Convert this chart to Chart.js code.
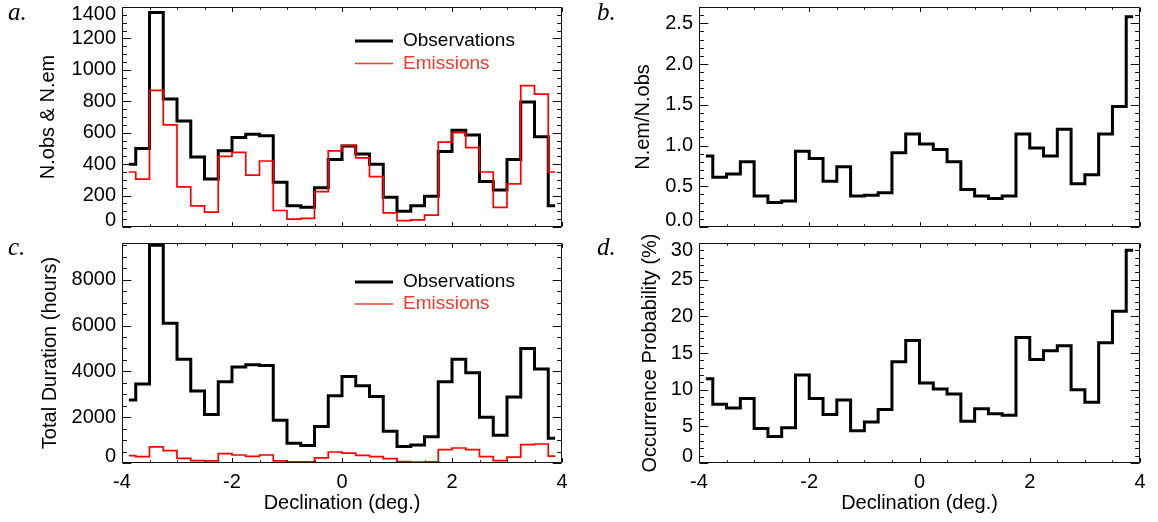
<!DOCTYPE html>
<html>
<head>
<meta charset="utf-8">
<script src="https://cdn.jsdelivr.net/npm/chart.js@4.4.0/dist/chart.umd.min.js"></script>
<style>
  html, body { margin: 0; padding: 0; background: #fff; }
  body { width: 1158px; height: 522px; position: relative; overflow: hidden; }
  canvas { position: absolute; }
</style>
</head>
<body>
<canvas id="panelA" width="580" height="235" style="left:0;top:0"></canvas>
<canvas id="panelB" width="578" height="235" style="left:580px;top:0"></canvas>
<canvas id="panelC" width="580" height="287" style="left:0;top:235px"></canvas>
<canvas id="panelD" width="578" height="287" style="left:580px;top:235px"></canvas>
<script>
// bin centres (deg.)
const declination = [-3.875, -3.625, -3.375, -3.125, -2.875, -2.625, -2.375, -2.125,
  -1.875, -1.625, -1.375, -1.125, -0.875, -0.625, -0.375, -0.125,
  0.125, 0.375, 0.625, 0.875, 1.125, 1.375, 1.625, 1.875,
  2.125, 2.375, 2.625, 2.875, 3.125, 3.375, 3.625, 3.875];

// a. number of observations / emissions
const obsCount = [400, 500, 1365, 815, 675, 445, 305, 485, 570, 590, 580, 285, 135, 125, 250, 430,
  515, 465, 400, 190, 100, 135, 195, 480, 615, 585, 290, 235, 430, 795, 575, 135];
const emCount = [350, 305, 870, 650, 255, 135, 95, 450, 475, 330, 420, 105, 50, 55, 225, 485,
  520, 440, 320, 90, 40, 45, 75, 540, 600, 505, 350, 125, 275, 900, 845, 350];

// b. ratio
const ratio = [0.87, 0.61, 0.65, 0.80, 0.38, 0.30, 0.32, 0.93, 0.84, 0.56, 0.74, 0.38, 0.39, 0.42, 0.91, 1.14,
  1.02, 0.95, 0.80, 0.46, 0.38, 0.35, 0.38, 1.14, 0.97, 0.87, 1.20, 0.53, 0.64, 1.14, 1.48, 2.58];

// c. total duration (hours)
const obsHours = [2750, 3450, 9500, 6100, 4530, 3140, 2120, 3550, 4190, 4290, 4260, 1870, 860, 760, 1590, 2930,
  3770, 3370, 2900, 1390, 715, 790, 1150, 3550, 4530, 3940, 2000, 1210, 2880, 5000, 4100, 1080];
const emHours = [320, 280, 700, 540, 200, 100, 90, 410, 350, 290, 350, 90, 45, 50, 220, 480,
  430, 335, 275, 190, 60, 40, 50, 580, 655, 585, 275, 100, 260, 800, 830, 300];

// d. occurrence probability (%)
const probability = [11.5, 8.0, 7.5, 8.8, 4.7, 3.6, 4.8, 12.0, 8.8, 6.6, 8.6, 4.4, 5.6, 7.3, 13.8, 16.7,
  10.9, 10.1, 9.4, 5.7, 7.4, 6.7, 6.5, 17.1, 14.1, 15.3, 16.0, 10.0, 8.3, 16.4, 20.7, 29.0];

// tick labels
const xTicks = [-4, -2, 0, 2, 4];
const yTicksA = [0, 200, 400, 600, 800, 1000, 1200, 1400];
const yTicksB = [0.0, 0.5, 1.0, 1.5, 2.0, 2.5];
const yTicksC = [0, 2000, 4000, 6000, 8000];
const yTicksD = [0, 5, 10, 15, 20, 25, 30];

const RED = '#ff0000';
const LEGEND_RED = '#f03c2d';

Chart.defaults.font.family = '"Liberation Sans", Arial, Helvetica, sans-serif';
Chart.defaults.font.size = 20;
Chart.defaults.color = '#000';

// IDL style frame: box on four sides, inward ticks, own y labels, legend, panel tag
const idlAxes = {
  id: 'idlAxes',
  afterDatasetsDraw(chart, args, o) {
    const { ctx, chartArea: a, scales: { x, y } } = chart;
    const L = Math.round(a.left) + 0.5, R = Math.round(a.right) - 0.5;
    const T = Math.round(a.top) + 0.5, B = Math.round(a.bottom) - 0.5;
    ctx.save();
    ctx.strokeStyle = '#111';
    ctx.lineWidth = 1;
    ctx.beginPath();
    ctx.rect(L, T, R - L, B - T);

    // x ticks, 4 minor intervals per major
    const xStep = (xTicks[1] - xTicks[0]) / 4;
    for (let v = x.min, k = 0; v <= x.max + 1e-9; v += xStep, k++) {
      const px = Math.round(x.getPixelForValue(v)) + 0.5;
      const len = k % 4 === 0 ? 4.4 : 2.2;
      ctx.moveTo(px, B); ctx.lineTo(px, B - len);
      ctx.moveTo(px, T); ctx.lineTo(px, T + len);
    }
    // y ticks
    const yStep = (o.yTicks[1] - o.yTicks[0]) / o.yMinor;
    for (let v = 0, k = 0; v <= y.max + 1e-9; v += yStep, k++) {
      const py = Math.round(y.getPixelForValue(v)) + 0.5;
      const len = k % o.yMinor === 0 ? 8.8 : 4.4;
      ctx.moveTo(L, py); ctx.lineTo(L + len, py);
      ctx.moveTo(R, py); ctx.lineTo(R - len, py);
    }
    ctx.stroke();

    // y labels (end labels pulled inside like the original)
    ctx.fillStyle = '#000';
    ctx.font = '20px "Liberation Sans", Arial, sans-serif';
    ctx.textAlign = 'right';
    ctx.textBaseline = 'middle';
    o.yTicks.forEach(v => {
      let py = y.getPixelForValue(v);
      if (v === y.min) py -= 7;
      if (v === y.max) py += 7;
      ctx.fillText(v.toFixed(o.digits), a.left - 6, py);
    });

    // legend
    if (o.legend) {
      ctx.font = '19px "Liberation Sans", Arial, sans-serif';
      ctx.textAlign = 'left';
      o.legend.forEach(it => {
        ctx.beginPath();
        ctx.strokeStyle = it.color;
        ctx.lineWidth = it.width;
        ctx.moveTo(355, it.y);
        ctx.lineTo(393, it.y);
        ctx.stroke();
        ctx.fillStyle = it.color;
        ctx.fillText(it.text, 403, it.y);
      });
    }

    // panel tag
    ctx.fillStyle = '#000';
    ctx.font = 'italic 25px "Liberation Serif", "Times New Roman", serif';
    ctx.textAlign = 'left';
    ctx.textBaseline = 'alphabetic';
    ctx.fillText(o.tag.text, o.tag.x, o.tag.y);
    ctx.restore();
  }
};

function makePanel(id, p) {
  const el = document.getElementById(id);
  const W = el.width, H = el.height;
  return new Chart(el, {
    type: 'line',
    data: {
      datasets: p.series.map(s => ({
        label: s.label,
        data: declination.map((d, i) => ({ x: d, y: s.values[i] })),
        borderColor: s.color,
        borderWidth: s.width,
        stepped: 'middle',
        pointRadius: 0,
        fill: false,
        borderJoinStyle: 'miter',
        borderCapStyle: 'butt',
        order: s.order
      }))
    },
    options: {
      responsive: false,
      animation: false,
      events: [],
      layout: { padding: { top: p.area.top, right: W - p.area.right, left: 0, bottom: 0 } },
      plugins: {
        legend: { display: false },
        tooltip: { enabled: false },
        idlAxes: { yTicks: p.yTicks, yMinor: p.yMinor, digits: p.digits, legend: p.legend, tag: p.tag }
      },
      scales: {
        x: {
          type: 'linear', min: -4, max: 4,
          grid: { display: false, drawTicks: false },
          border: { display: false },
          afterBuildTicks: s => { s.ticks = xTicks.map(v => ({ value: v })); },
          afterFit: s => { s.height = H - p.area.bottom; },
          ticks: { display: p.showX, padding: 7, maxRotation: 0 },
          title: { display: p.showX, text: 'Declination (deg.)', padding: { top: 0, bottom: 7 } }
        },
        y: {
          type: 'linear', min: 0, max: p.yMax,
          grid: { display: false, drawTicks: false },
          border: { display: false },
          ticks: { display: false },
          afterFit: s => { s.width = p.area.left; },
          title: { display: true, text: p.yTitle, padding: { top: p.titleX - 12, bottom: 0 } }
        }
      }
    },
    plugins: [idlAxes]
  });
}

makePanel('panelA', {
  area: { left: 122, right: 562, top: 7, bottom: 227 },
  yMax: 1400, yTicks: yTicksA, yMinor: 4, digits: 0,
  yTitle: 'N.obs & N.em', titleX: 48, showX: false,
  series: [
    { label: 'Observations', values: obsCount, color: '#000', width: 3, order: 1 },
    { label: 'Emissions', values: emCount, color: RED, width: 1.7, order: 0 }
  ],
  legend: [
    { text: 'Observations', color: '#000', width: 3, y: 41 },
    { text: 'Emissions', color: LEGEND_RED, width: 1.7, y: 63.5 }
  ],
  tag: { text: 'a.', x: 8, y: 20 }
});

makePanel('panelB', {
  area: { left: 119, right: 560, top: 7, bottom: 227 },
  yMax: 2.7, yTicks: yTicksB, yMinor: 5, digits: 1,
  yTitle: 'N.em/N.obs', titleX: 63, showX: false,
  series: [
    { label: 'N.em/N.obs', values: ratio, color: '#000', width: 3, order: 0 }
  ],
  tag: { text: 'b.', x: 17, y: 20 }
});

makePanel('panelC', {
  area: { left: 122, right: 562, top: 8, bottom: 228 },
  yMax: 9600, yTicks: yTicksC, yMinor: 4, digits: 0,
  yTitle: 'Total Duration (hours)', titleX: 50, showX: true,
  series: [
    { label: 'Observations', values: obsHours, color: '#000', width: 3, order: 1 },
    { label: 'Emissions', values: emHours, color: RED, width: 1.7, order: 0 }
  ],
  legend: [
    { text: 'Observations', color: '#000', width: 3, y: 47 },
    { text: 'Emissions', color: LEGEND_RED, width: 1.7, y: 69 }
  ],
  tag: { text: 'c.', x: 8, y: 20 }
});

makePanel('panelD', {
  area: { left: 119, right: 560, top: 8, bottom: 228 },
  yMax: 30, yTicks: yTicksD, yMinor: 5, digits: 0,
  yTitle: 'Occurrence Probability (%)', titleX: 70, showX: true,
  series: [
    { label: 'Occurrence Probability', values: probability, color: '#000', width: 3, order: 0 }
  ],
  tag: { text: 'd.', x: 17, y: 20 }
});
</script>
</body>
</html>
